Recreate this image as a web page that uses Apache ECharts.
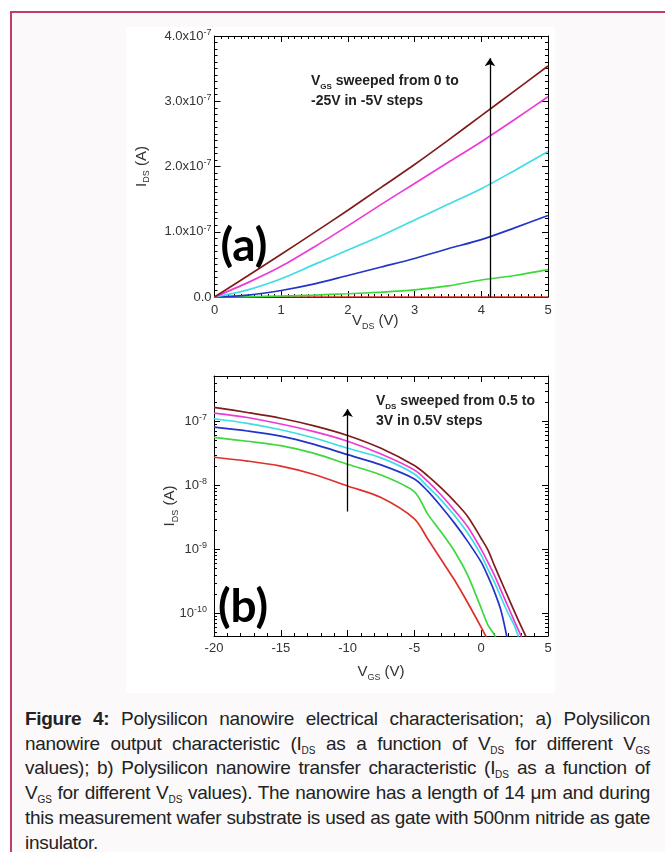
<!DOCTYPE html>
<html>
<head>
<meta charset="utf-8">
<script src="https://cdn.jsdelivr.net/npm/echarts@6/dist/echarts.min.js"></script>
<style>
  html, body { margin: 0; padding: 0; background: #fff; }
  body { width: 665px; height: 852px; position: relative; overflow: hidden; }
  #frame {
    position: absolute; left: 10px; top: 11px; width: 700px; height: 900px;
    border: 2px solid #c23c64; background: #fbf9fa; box-sizing: border-box;
  }
  #chart { position: absolute; left: 126px; top: 27px; width: 429px; height: 666px; background: #fff; }
  #caption {
    position: absolute; left: 25px; top: 707px; width: 625px;
    font-family: "Liberation Sans", Arial, sans-serif;
    font-size: 19px; line-height: 24.7px; color: #222;
    letter-spacing: -0.3px; word-spacing: -1px;
  }
  #caption .j { text-align: justify; text-align-last: justify; }
  #caption sub { font-size: 10px; line-height: 0; vertical-align: -4px; letter-spacing: 0; }
</style>
</head>
<body>
<div id="frame"></div>
<div id="chart"></div>
<div id="caption">
  <div class="j"><b>Figure 4:</b> Polysilicon nanowire electrical characterisation; a) Polysilicon</div>
  <div class="j">nanowire output characteristic (I<sub>DS</sub> as a function of V<sub>DS</sub> for different V<sub>GS</sub></div>
  <div class="j">values); b) Polysilicon nanowire transfer characteristic (I<sub>DS</sub> as a function of</div>
  <div class="j">V<sub>GS</sub> for different V<sub>DS</sub> values). The nanowire has a length of 14 μm and during</div>
  <div class="j">this measurement wafer substrate is used as gate with 500nm nitride as gate</div>
  <div>insulator.</div>
</div>
<script>
// (a) output characteristic: I_DS vs V_DS, one curve per V_GS
const vdsA = [0, 0.5, 1, 1.5, 2, 2.5, 3, 3.5, 4, 4.5, 5];
const idsVgs0   = [0, 0, 0, 0, 0, 0, 0, 0, 0, 0, 0];
const idsVgsM5  = [0, 0.3e-9, 1.5e-9, 3.0e-9, 5.0e-9, 7.5e-9, 1.1e-8, 1.7e-8, 2.6e-8, 3.3e-8, 4.2e-8];
const idsVgsM10 = [0, 3e-9, 1.0e-8, 2.0e-8, 3.3e-8, 4.6e-8, 5.9e-8, 7.4e-8, 8.8e-8, 1.06e-7, 1.25e-7];
const idsVgsM15 = [0, 1.1e-8, 2.8e-8, 5.0e-8, 7.2e-8, 9.4e-8, 1.18e-7, 1.42e-7, 1.66e-7, 1.94e-7, 2.23e-7];
const idsVgsM20 = [0, 2.2e-8, 4.7e-8, 7.7e-8, 1.09e-7, 1.42e-7, 1.74e-7, 2.06e-7, 2.38e-7, 2.72e-7, 3.07e-7];
const idsVgsM25 = [0, 3.25e-8, 6.55e-8, 9.9e-8, 1.33e-7, 1.68e-7, 2.03e-7, 2.40e-7, 2.78e-7, 3.16e-7, 3.54e-7];

// (b) transfer characteristic: I_DS vs V_GS, one curve per V_DS (log scale)
const vgsB = [-20, -17.5, -15, -12.5, -10, -7.5, -5, -4, -3, -2, -1, 0, 0.5, 1, 1.5, 2, 2.5, 3, 3.5];
const idsVds05 = [2.75e-8, 2.40e-8, 2.00e-8, 1.48e-8, 9.77e-9, 6.46e-9, 3.0e-9, 1.45e-9, 6.92e-10, 3.31e-10, 1.45e-10, 6.03e-11, 3.80e-11, null, null, null, null, null, null];
const idsVds10 = [5.62e-8, 4.90e-8, 4.17e-8, 3.16e-8, 2.14e-8, 1.45e-8, 7.94e-9, 3.55e-9, 1.86e-9, 9.33e-10, 3.89e-10, 1.20e-10, 6.61e-11, 4.57e-11, 2.82e-11, null, null, null, null];
const idsVds15 = [8.13e-8, 7.08e-8, 5.89e-8, 4.37e-8, 3.02e-8, 2.09e-8, 1.26e-8, 8.13e-9, 4.68e-9, 2.57e-9, 1.32e-9, 6.31e-10, 3.80e-10, 2.14e-10, 1.07e-10, 3.55e-11, null, null, null];
const idsVds20 = [1.10e-7, 9.33e-8, 7.41e-8, 5.50e-8, 3.80e-8, 2.69e-8, 1.51e-8, 9.55e-9, 5.89e-9, 3.39e-9, 1.78e-9, 8.13e-10, 4.90e-10, 3.02e-10, 1.74e-10, 1.02e-10, 6.31e-11, 3.16e-11, null];
const idsVds25 = [1.35e-7, 1.15e-7, 9.12e-8, 6.92e-8, 4.90e-8, 3.09e-8, 1.74e-8, 1.15e-8, 7.08e-9, 4.07e-9, 2.24e-9, 1.0e-9, 6.31e-10, 3.89e-10, 2.24e-10, 1.29e-10, 7.41e-11, 4.37e-11, 2.51e-11];
const idsVds30 = [1.66e-7, 1.38e-7, 1.12e-7, 8.51e-8, 6.03e-8, 3.80e-8, 2.04e-8, 1.41e-8, 9.12e-9, 5.62e-9, 3.24e-9, 1.48e-9, 9.77e-10, 5.50e-10, 3.16e-10, 1.82e-10, 1.05e-10, 6.17e-11, 3.72e-11];

// sweep arrows [x, yFrom, yTo]
const arrowA = [4.13, 0, 3.66e-7];
const arrowB = [-10, 3.9e-9, 1.56e-7];

const colors = ['#e0302c', '#3cd83c', '#2334c8', '#3edde6', '#ee3ad6', '#801c1c'];
const seriesA = [idsVgs0, idsVgsM5, idsVgsM10, idsVgsM15, idsVgsM20, idsVgsM25];
const seriesB = [idsVds05, idsVds10, idsVds15, idsVds20, idsVds25, idsVds30];

const font = '"Liberation Sans", Arial, sans-serif';
const labelRich = {
  n: { fontSize: 13, lineHeight: 16, color: '#333', fontFamily: font },
  sup: { fontSize: 9, lineHeight: 8, verticalAlign: 'top', color: '#333', fontFamily: font }
};
const nameRich = {
  m: { fontSize: 15, lineHeight: 20, color: '#333', fontFamily: font },
  s: { fontSize: 9, lineHeight: 14, verticalAlign: 'bottom', color: '#333', fontFamily: font }
};
const annRich = {
  b: { fontSize: 14, fontWeight: 'bold', lineHeight: 20, fill: '#222', fontFamily: font },
  s: { fontSize: 8, fontWeight: 'bold', lineHeight: 14, verticalAlign: 'bottom', fill: '#222', fontFamily: font }
};

const line = { show: true, onZero: false, lineStyle: { color: '#000', width: 1 } };
const tick = { show: true, inside: true, length: 6, lineStyle: { color: '#000' } };
function minor(n) { return { show: true, splitNumber: n, length: 3, lineStyle: { color: '#000' } }; }

function mirrorX(grid, min, max, interval, n) {
  return { type: 'value', gridIndex: grid, position: 'top', min, max, interval,
    axisLine: line, axisTick: tick, minorTick: minor(n), axisLabel: { show: false }, splitLine: { show: false } };
}

function arrowLine(a) {
  return {
    silent: true, symbol: ['none', 'arrow'], symbolSize: 8, animation: false,
    label: { show: false }, lineStyle: { color: '#000', width: 1.3, type: 'solid' },
    data: [[{ coord: [a[0], a[1]] }, { coord: [a[0], a[2]] }]]
  };
}

function isDecade(v) {
  const e = Math.log10(v);
  return Math.abs(e - Math.round(e)) < 1e-6;
}

const chart = echarts.init(document.getElementById('chart'));
chart.setOption({
  animation: false,
  grid: [
    { left: 88, top: 9, width: 334, height: 261 },
    { left: 88, top: 349, width: 334, height: 260 }
  ],
  xAxis: [
    { type: 'value', gridIndex: 0, position: 'bottom', min: 0, max: 5, interval: 1,
      axisLine: line, axisTick: tick, minorTick: minor(10), splitLine: { show: false },
      axisLabel: { fontSize: 13, color: '#333', fontFamily: font, margin: 7 },
      name: '{m|V}{s|DS}{m| (V)}', nameLocation: 'middle', nameGap: 14, nameMoveOverlap: false,
      nameTextStyle: { rich: nameRich, padding: [0, 12, 0, 0] } },
    mirrorX(0, 0, 5, 1, 10),
    { type: 'value', gridIndex: 1, position: 'bottom', min: -20, max: 5, interval: 5,
      axisLine: line, axisTick: tick, minorTick: minor(5), splitLine: { show: false },
      axisLabel: { fontSize: 13, color: '#333', fontFamily: font, margin: 6 },
      name: '{m|V}{s|GS}{m| (V)}', nameLocation: 'middle', nameGap: 26, nameMoveOverlap: false,
      nameTextStyle: { rich: nameRich } },
    mirrorX(1, -20, 5, 5, 5)
  ],
  yAxis: [
    { type: 'value', gridIndex: 0, position: 'left', min: 0, max: 4e-7, interval: 1e-7,
      axisLine: line, axisTick: tick, minorTick: minor(10), splitLine: { show: false },
      axisLabel: { margin: 3, rich: labelRich,
        formatter: v => v === 0 ? '{n|0.0}' : '{n|' + (v / 1e-7).toFixed(1) + 'x10}{sup|-7}' },
      name: '{m|I}{s|DS}{m| (A)}', nameLocation: 'middle', nameGap: 63, nameMoveOverlap: false,
      nameTextStyle: { rich: nameRich } },
    { type: 'value', gridIndex: 0, position: 'right', min: 0, max: 4e-7, interval: 1e-7,
      axisLine: line, axisTick: tick, minorTick: minor(10), axisLabel: { show: false }, splitLine: { show: false } },
    { type: 'log', logBase: 10, gridIndex: 1, position: 'left', min: Math.pow(10, -10.355), max: Math.pow(10, -6.29),
      axisLine: line, axisTick: tick, minorTick: minor(9), splitLine: { show: false },
      axisLabel: { margin: 7, rich: labelRich, showMinLabel: false, showMaxLabel: false,
        formatter: v => isDecade(v) ? '{n|10}{sup|' + Math.round(Math.log10(v)) + '}' : '' },
      name: '{m|I}{s|DS}{m| (A)}', nameLocation: 'middle', nameGap: 34, nameMoveOverlap: false,
      nameTextStyle: { rich: nameRich } },
    { type: 'log', logBase: 10, gridIndex: 1, position: 'right', min: Math.pow(10, -10.355), max: Math.pow(10, -6.29),
      axisLine: line, axisTick: tick, minorTick: minor(9), axisLabel: { show: false }, splitLine: { show: false } }
  ],
  series: [
    ...seriesA.map((d, i) => ({
      type: 'line', xAxisIndex: 0, yAxisIndex: 0, showSymbol: false, silent: true, smooth: 0.3,
      data: vdsA.map((v, k) => [v, d[k]]),
      lineStyle: { color: colors[i], width: 1.7 }, itemStyle: { color: colors[i] },
      markLine: i === 5 ? arrowLine(arrowA) : undefined
    })),
    ...seriesB.map((d, i) => ({
      type: 'line', xAxisIndex: 2, yAxisIndex: 2, showSymbol: false, silent: true, smooth: 0.3,
      data: vgsB.map((v, k) => [v, d[k]]),
      lineStyle: { color: colors[i], width: 1.7 }, itemStyle: { color: colors[i] },
      markLine: i === 5 ? arrowLine(arrowB) : undefined
    }))
  ],
  graphic: [
    { type: 'text', x: 185, y: 44, style: { text: '{b|V}{s|GS}{b| sweeped from 0 to}\n{b|-25V in -5V steps}', rich: annRich, fill: '#222' } },
    { type: 'text', x: 250, y: 364, style: { text: '{b|V}{s|DS}{b| sweeped from 0.5 to}\n{b|3V in 0.5V steps}', rich: annRich, fill: '#222' } },
    { type: 'text', x: 118, y: 219, style: { text: '(a)', font: 'bold 46px Lato, "Open Sans", sans-serif', fill: '#000', align: 'center', verticalAlign: 'middle' } },
    { type: 'text', x: 117, y: 580, style: { text: '(b)', font: 'bold 46px Lato, "Open Sans", sans-serif', fill: '#000', align: 'center', verticalAlign: 'middle' } }
  ]
});
</script>
</body>
</html>
